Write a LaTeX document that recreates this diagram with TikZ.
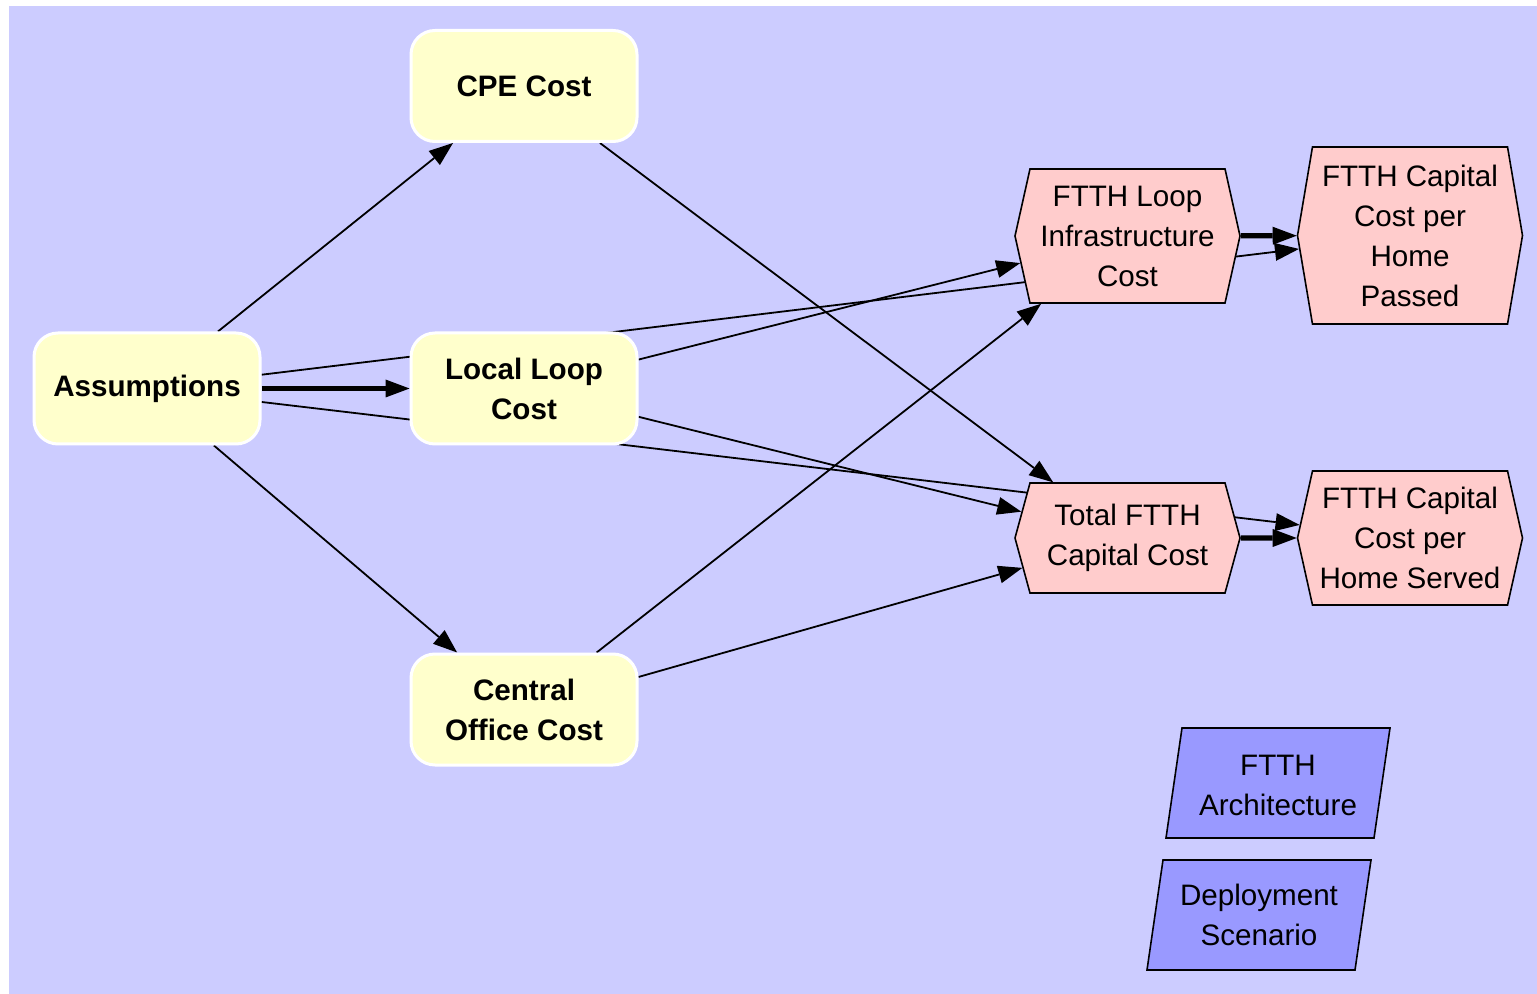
\documentclass[tikz,border=0pt]{standalone}
\usepackage{fontspec}
\setmainfont{Liberation Sans}
\usetikzlibrary{shapes.symbols,arrows.meta,calc}

\definecolor{canvas}{HTML}{CCCCFF}
\definecolor{varfill}{HTML}{FFFFCC}
\definecolor{objfill}{HTML}{FFCCCC}
\definecolor{inputfill}{HTML}{9999FF}

\pgfdeclarelayer{back}
\pgfdeclarelayer{edges}
\pgfsetlayers{back,edges,main}

\tikzset{
  txt/.style={font=\fontsize{14.8}{20}\selectfont, align=center},
  calcbox/.style={txt, font=\fontsize{14.8}{20}\selectfont\bfseries,
    rectangle, rounded corners=12pt, draw=white, line width=1.5pt,
    fill=varfill, minimum width=113pt, minimum height=55.5pt, inner sep=0pt},
  objhex/.style={txt, shape=signal, signal to=west and east,
    draw=black, line width=0.8pt, fill=objfill, inner sep=0pt,
    minimum width=112.5pt},
  inputtxt/.style={txt, inner sep=0pt},
  inputshape/.style={draw=black, line width=0.8pt, fill=inputfill},
  link/.style={draw=black, line width=0.9pt,
    -{Triangle[length=12pt,width=9pt,line width=0pt]}},
  fnlink/.style={link, line width=2.7pt},
}

\begin{document}
\begin{tikzpicture}[x=0.5pt, y=-0.5pt]
  \useasboundingbox (0,0) rectangle (1537,994);
  \begin{pgfonlayer}{back}
    \fill[canvas] (9,6) rectangle (1537,994);
  \end{pgfonlayer}

  % intermediate cost variables
  \node[calcbox] (cpe)    at (524,86)    {CPE Cost};
  \node[calcbox] (assume) at (147,388.5) {Assumptions};
  \node[calcbox] (loop)   at (524,388.5) {Local Loop\\Cost};
  \node[calcbox] (co)     at (524,709.5) {Central\\Office Cost};

  % objectives
  \node[objhex, minimum height=67pt, signal pointer angle=154.8]
    (infra) at (1127.5,236) {FTTH Loop\\Infrastructure\\Cost};
  \node[objhex, minimum height=55pt, signal pointer angle=149.5]
    (total) at (1127.5,538) {Total FTTH\\Capital Cost};
  \node[objhex, minimum height=88.5pt, signal pointer angle=160.8]
    (passed) at (1410,235.5) {FTTH Capital\\Cost per\\Home\\Passed};
  \node[objhex, minimum height=67pt, signal pointer angle=154.8]
    (served) at (1410,538) {FTTH Capital\\Cost per\\Home Served};

  % decision inputs
  \node[inputtxt] (arch)   at (1278,785) {FTTH\\Architecture};
  \node[inputtxt] (deploy) at (1259,915) {Deployment\\Scenario};

  \begin{pgfonlayer}{edges}
    \draw[inputshape] ($(arch.center)+(-96,-57)$) -- ($(arch.center)+(112,-57)$)
      -- ($(arch.center)+(96,53)$) -- ($(arch.center)+(-112,53)$) -- cycle;
    \draw[inputshape] ($(deploy.center)+(-96,-55)$) -- ($(deploy.center)+(112,-55)$)
      -- ($(deploy.center)+(96,55)$) -- ($(deploy.center)+(-112,55)$) -- cycle;

    \draw[link] (assume) -- (cpe);
    \draw[link] (assume) -- (co);
    \draw[fnlink] (assume) -- (loop);
    \draw[link] (assume) -- (passed);
    \draw[link] (assume) -- (served);
    \draw[link] (cpe) -- (total);
    \draw[link] (loop) -- (infra);
    \draw[link] (loop) -- (total);
    \draw[link] (co) -- (infra);
    \draw[link] (co) -- (total);
    \draw[fnlink] (infra) -- (passed);
    \draw[fnlink] (total) -- (served);
  \end{pgfonlayer}
\end{tikzpicture}
\end{document}
